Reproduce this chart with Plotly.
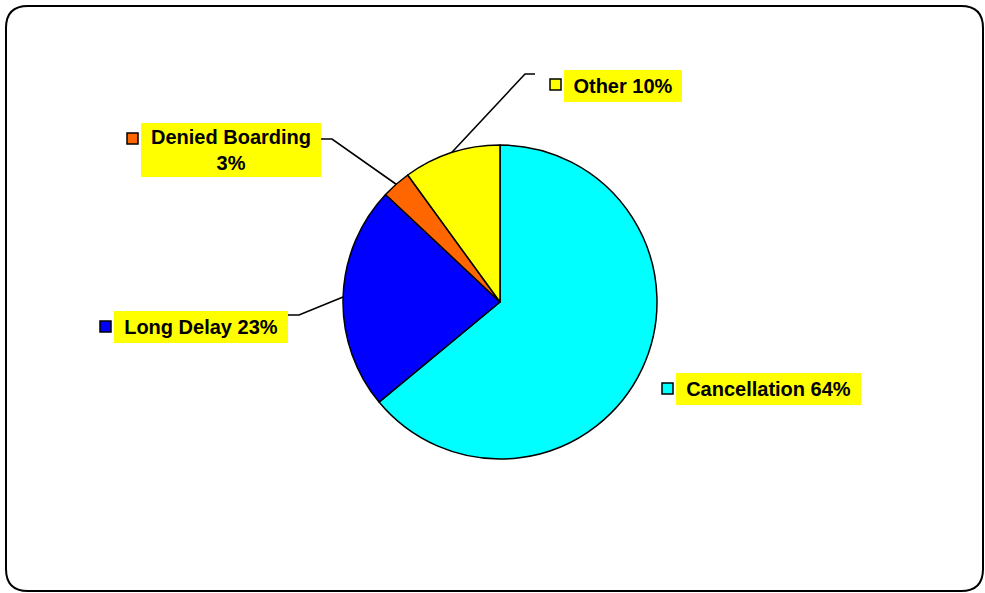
import math
import plotly.graph_objects as go

categories = ["Cancellation", "Long Delay", "Denied Boarding", "Other"]
values = [64, 23, 3, 10]
colors = ["#00FFFF", "#0000FF", "#FF6600", "#FFFF00"]
label_texts = ["Cancellation 64%", "Long Delay 23%", "Denied Boarding<br>3%", "Other 10%"]

W, H = 985, 593
CX, CY, R = 500, 302, 157

def px(x):
    return x / W

def py(y):
    return 1 - y / H

fig = go.Figure(go.Pie(
    labels=categories, values=values, sort=False, direction="clockwise", rotation=0,
    marker=dict(colors=colors, line=dict(color="black", width=1.5)),
    textinfo="none", hoverinfo="label+percent", showlegend=False,
    domain=dict(x=[px(CX - R), px(CX + R)], y=[py(CY + R), py(CY - R)]),
))

# label box geometry (pixels): box left, top, width, height, key left, key top
boxes = {
    "Cancellation": (676, 373, 185, 32, 662, 383),
    "Long Delay": (114, 311, 174, 32, 100, 321),
    "Denied Boarding": (141, 123, 180, 54, 127, 133),
    "Other": (564, 70, 118, 32, 550, 79),
}
# leader line elbow points (pixels): outer end, elbow
leaders = {
    "Long Delay": ((288, 315), (299, 315)),
    "Denied Boarding": ((321, 139), (332, 139)),
    "Other": ((535, 74), (525, 74)),
}

shapes = []
annotations = []
total = sum(values)
cum = 0
for cat, val, col, txt in zip(categories, values, colors, label_texts):
    mid = 90 - (cum + val / 2) / total * 360
    cum += val
    bx, by, bw, bh, kx, ky = boxes[cat]
    annotations.append(dict(
        x=px(bx), y=py(by), xref="paper", yref="paper", xanchor="left", yanchor="top",
        text="<b>" + txt + "</b>", showarrow=False, align="center",
        width=bw, height=bh, bgcolor="#FFFF00", borderpad=0, borderwidth=0,
        font=dict(family="Liberation Sans, Arial", size=20, color="black"),
    ))
    shapes.append(dict(type="rect", xref="paper", yref="paper",
                       x0=px(kx), x1=px(kx + 11), y0=py(ky + 11), y1=py(ky),
                       fillcolor=col, line=dict(color="black", width=1.5)))
    if cat in leaders:
        (ox, oy), (ex, ey) = leaders[cat]
        a = math.radians(mid)
        sx, sy = CX + R * math.cos(a), CY - R * math.sin(a)
        path = f"M {px(ox)} {py(oy)} L {px(ex)} {py(ey)} L {px(sx)} {py(sy)}"
        shapes.append(dict(type="path", xref="paper", yref="paper", path=path,
                           line=dict(color="black", width=1.6)))

# rounded chart border
x0, y0, x1, y1, r = 6, 6, 983, 591, 22
pts = [
    ("M", (x0 + r, y0)), ("L", (x1 - r, y0)), ("Q", (x1, y0), (x1, y0 + r)),
    ("L", (x1, y1 - r)), ("Q", (x1, y1), (x1 - r, y1)), ("L", (x0 + r, y1)),
    ("Q", (x0, y1), (x0, y1 - r)), ("L", (x0, y0 + r)), ("Q", (x0, y0), (x0 + r, y0)),
]
parts = []
for p in pts:
    cmd = p[0]
    coords = " ".join(f"{px(x)} {py(y)}" for x, y in p[1:])
    parts.append(f"{cmd} {coords}")
shapes.append(dict(type="path", xref="paper", yref="paper", path=" ".join(parts) + " Z",
                   line=dict(color="black", width=2)))

fig.update_layout(
    width=W, height=H, margin=dict(l=0, r=0, t=0, b=0),
    paper_bgcolor="white", plot_bgcolor="white",
    shapes=shapes, annotations=annotations,
)
fig.write_html("out.html")
